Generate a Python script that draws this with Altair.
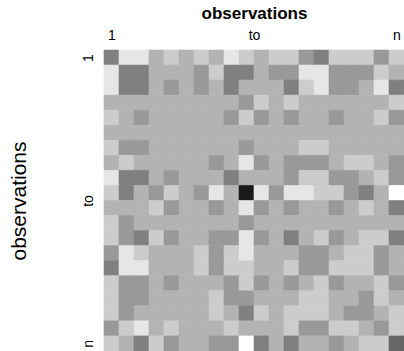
import altair as alt
import pandas as pd

# gray-level of each cell (0 = white ... 10 = black), row 1 at top
r01 = [5, 1, 1, 3, 2, 3, 2, 3, 1, 2, 3, 2, 2, 4, 5, 2, 2, 2, 4, 2]
r02 = [1, 5, 5, 3, 3, 3, 4, 2, 5, 5, 3, 4, 4, 1, 1, 4, 4, 4, 2, 3]
r03 = [1, 5, 5, 3, 4, 3, 4, 3, 5, 3, 3, 3, 5, 2, 1, 4, 4, 3, 1, 5]
r04 = [3, 3, 3, 3, 3, 3, 3, 3, 3, 4, 2, 3, 2, 3, 3, 3, 3, 3, 3, 2]
r05 = [2, 3, 4, 3, 3, 3, 3, 3, 4, 2, 4, 3, 4, 3, 3, 4, 3, 3, 2, 4]
r06 = [3, 3, 3, 3, 3, 3, 3, 3, 3, 3, 3, 3, 3, 3, 3, 3, 3, 3, 3, 3]
r07 = [2, 4, 4, 3, 3, 3, 3, 3, 3, 4, 3, 3, 3, 2, 2, 3, 3, 3, 3, 3]
r08 = [3, 2, 3, 3, 3, 3, 3, 4, 3, 1, 4, 3, 4, 4, 4, 3, 2, 2, 3, 4]
r09 = [1, 5, 5, 3, 4, 3, 3, 3, 5, 3, 3, 3, 4, 2, 2, 4, 4, 3, 2, 4]
r10 = [2, 5, 3, 4, 2, 3, 4, 1, 3, 9, 1, 4, 1, 1, 2, 2, 4, 5, 3, 0]
r11 = [3, 3, 3, 2, 4, 3, 3, 4, 3, 1, 4, 3, 4, 3, 3, 4, 3, 2, 3, 5]
r12 = [2, 4, 3, 3, 3, 3, 3, 3, 3, 4, 3, 3, 3, 3, 3, 3, 3, 3, 3, 3]
r13 = [2, 4, 5, 2, 4, 3, 3, 4, 4, 1, 4, 3, 5, 3, 2, 4, 3, 2, 2, 5]
r14 = [4, 1, 2, 3, 3, 3, 2, 4, 2, 1, 3, 3, 3, 4, 4, 3, 2, 2, 4, 3]
r15 = [5, 1, 1, 3, 3, 3, 2, 4, 2, 2, 3, 3, 2, 4, 4, 2, 2, 2, 4, 3]
r16 = [2, 4, 4, 3, 4, 3, 3, 3, 4, 2, 4, 3, 4, 3, 2, 4, 3, 3, 2, 4]
r17 = [2, 4, 4, 3, 3, 3, 3, 2, 4, 4, 3, 3, 3, 2, 2, 3, 3, 4, 2, 3]
r18 = [2, 4, 3, 3, 3, 3, 3, 2, 3, 5, 2, 3, 2, 2, 2, 3, 4, 4, 3, 2]
r19 = [4, 2, 1, 3, 2, 3, 3, 3, 2, 3, 3, 3, 2, 4, 4, 2, 2, 3, 4, 2]
r20 = [2, 3, 5, 2, 4, 3, 3, 4, 4, 0, 5, 3, 5, 3, 3, 4, 3, 2, 2, 6]

tick_values = [0.5, 10, 19.5]
tick_labels = ["1", "to", "n"]
axis_title = "observations"

rows = [r01, r02, r03, r04, r05, r06, r07, r08, r09, r10,
        r11, r12, r13, r14, r15, r16, r17, r18, r19, r20]
n = len(rows)

recs = []
for i, row in enumerate(rows):
    for j, v in enumerate(row):
        recs.append({"c0": j, "c1": j + 1, "r0": i, "r1": i + 1, "v": v})
df = pd.DataFrame(recs)

label_expr = ("datum.value == %s ? '%s' : datum.value == %s ? '%s' : '%s'"
              % (tick_values[0], tick_labels[0], tick_values[1], tick_labels[1], tick_labels[2]))

FONT = "Liberation Sans"
gray_scale = alt.Scale(domain=[0, 10], range=["#ffffff", "#000000"], interpolate="rgb")

chart = alt.Chart(df).mark_rect(strokeWidth=0.6).encode(
    x=alt.X("c0:Q", scale=alt.Scale(domain=[0, n], nice=False, zero=False),
            axis=alt.Axis(orient="top", values=tick_values, labelExpr=label_expr,
                          ticks=False, domain=False, grid=False,
                          labelFontSize=14, labelPadding=8, labelFont=FONT,
                          labelColor="black", labelAngle=0,
                          title=axis_title, titleFont=FONT, titleFontSize=17,
                          titleFontWeight="bold", titleColor="black", titlePadding=6)),
    x2="c1:Q",
    y=alt.Y("r0:Q", scale=alt.Scale(domain=[0, n], nice=False, zero=False, reverse=True),
            axis=alt.Axis(orient="left", values=tick_values, labelExpr=label_expr,
                          ticks=False, domain=False, grid=False,
                          labelFontSize=14, labelPadding=9, labelFont=FONT,
                          labelColor="black", labelAngle=270,
                          labelAlign="center", labelBaseline="bottom",
                          title=axis_title, titleFont=FONT, titleFontSize=21,
                          titleFontWeight="normal", titleColor="black", titlePadding=52)),
    y2="r1:Q",
    color=alt.Color("v:Q", scale=gray_scale, legend=None),
    stroke=alt.Stroke("v:Q", scale=gray_scale, legend=None),
).properties(
    width=300, height=301,
    autosize=alt.AutoSizeParams(type="none"),
    padding={"left": 104, "top": 50, "right": 0, "bottom": 0},
).configure_view(stroke=None)

chart.save("out.html", embed_options={"renderer": "svg", "actions": False})
